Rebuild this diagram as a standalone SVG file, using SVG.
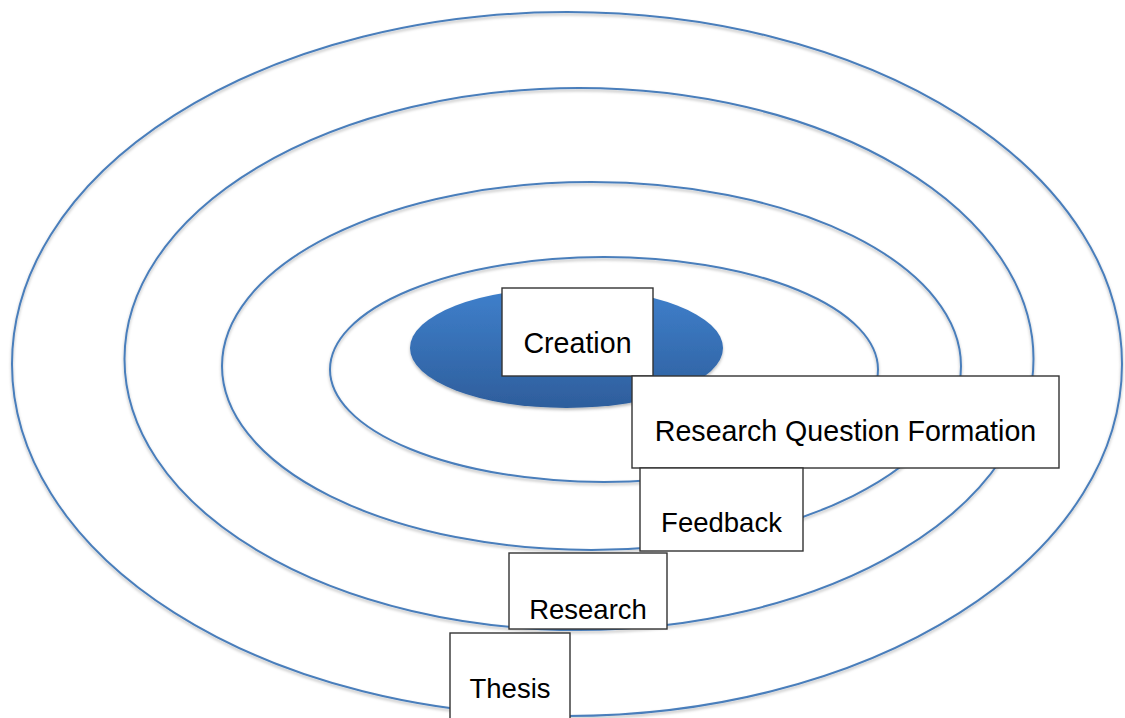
<svg xmlns="http://www.w3.org/2000/svg" width="1125" height="718" viewBox="0 0 1125 718">
  <defs>
    <linearGradient id="coreFill" x1="0" y1="0" x2="0" y2="1">
      <stop offset="0" stop-color="#3f80cc"/>
      <stop offset="1" stop-color="#2e5e9c"/>
    </linearGradient>
    <filter id="softShadow" x="-5%" y="-5%" width="110%" height="115%">
      <feDropShadow dx="0" dy="2" stdDeviation="1.5" flood-color="#000" flood-opacity="0.28"/>
    </filter>
    <style>
      .ring { fill: none; stroke: #4a7ebb; stroke-width: 2; }
      .box { fill: #ffffff; stroke: #333333; stroke-width: 1.4; }
      .label { font-family: "Liberation Sans", Arial, sans-serif; font-size: 27.5px; fill: #000000; text-anchor: middle; }
      .label.wide { font-size: 28.6px; }
    </style>
  </defs>

  <rect x="0" y="0" width="1125" height="718" fill="#ffffff"/>

  <!-- concentric rings, outermost first -->
  <g id="rings" filter="url(#softShadow)">
    <ellipse class="ring" cx="567" cy="364" rx="555" ry="352"/>
    <ellipse class="ring" cx="579" cy="359" rx="454.5" ry="271"/>
    <ellipse class="ring" cx="591.5" cy="366" rx="369.5" ry="184"/>
    <ellipse class="ring" cx="604" cy="369.5" rx="274" ry="112.5"/>
  </g>

  <!-- filled core -->
  <g id="core" filter="url(#softShadow)">
    <ellipse cx="566.5" cy="348" rx="156.5" ry="60" fill="url(#coreFill)"/>
  </g>

  <g id="node-creation">
    <rect class="box" x="502" y="288" width="151" height="88"/>
    <text class="label wide" x="577.5" y="353">Creation</text>
  </g>

  <g id="node-research-question-formation">
    <rect class="box" x="632" y="376" width="427" height="92"/>
    <text class="label wide" x="845.5" y="441">Research Question Formation</text>
  </g>

  <g id="node-feedback">
    <rect class="box" x="640" y="468" width="163" height="83"/>
    <text class="label" x="721.5" y="532">Feedback</text>
  </g>

  <g id="node-research">
    <rect class="box" x="509" y="553" width="158" height="76"/>
    <text class="label" x="588" y="619">Research</text>
  </g>

  <g id="node-thesis">
    <rect class="box" x="450" y="633" width="120" height="100"/>
    <text class="label" x="510" y="698">Thesis</text>
  </g>
</svg>
